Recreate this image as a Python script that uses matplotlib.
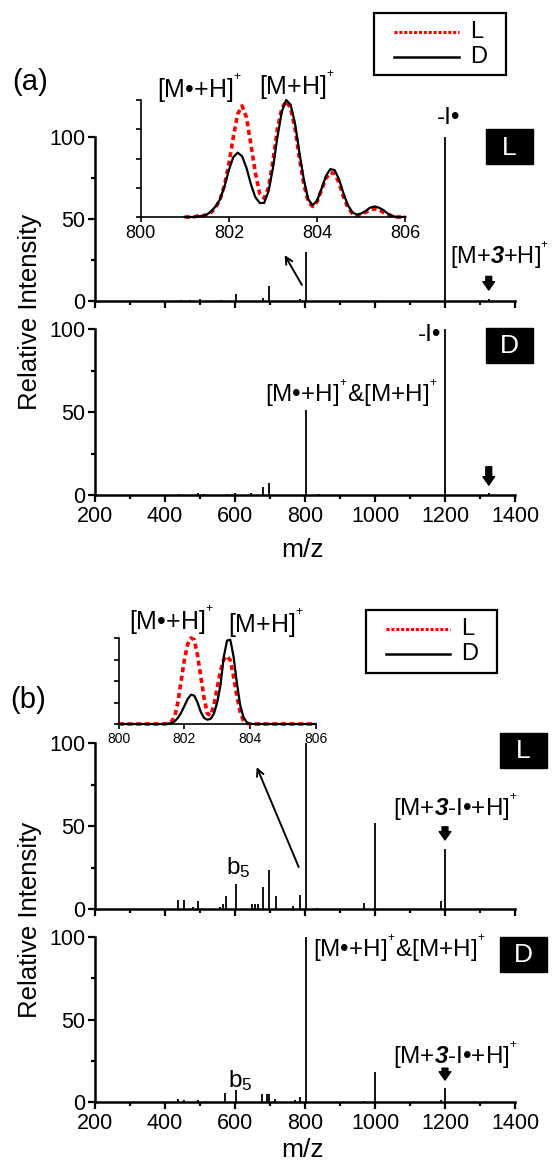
import numpy as np
import matplotlib.pyplot as plt
from matplotlib.patches import Rectangle
from matplotlib.lines import Line2D

plt.rcParams['font.family'] = ['Liberation Sans', 'DejaVu Sans']
plt.rcParams['mathtext.fontset'] = 'custom'
plt.rcParams['mathtext.rm'] = 'Liberation Sans'
plt.rcParams['mathtext.it'] = 'Liberation Sans:italic'
plt.rcParams['mathtext.bf'] = 'Liberation Sans:italic:bold'

# ---- stick spectra (m/z, relative intensity) ----
a_L_mz = [445, 470, 500, 560, 603, 680, 697, 785, 803, 1200, 1326]
a_L_int = [0.5, 0.7, 1.0, 0.5, 4.5, 2.0, 9.0, 1.0, 30, 100, 1.0]

a_D_mz = [440, 495, 510, 576, 600, 645, 680, 697, 803, 840, 1200, 1326]
a_D_int = [0.5, 1.0, 0.5, 0.5, 1.5, 1.0, 5.0, 7.0, 51, 0.5, 100, 1.5]

b_L_mz = [438, 454, 481, 495, 557, 567, 574, 603, 648, 657, 667, 679, 698, 716,
          767, 786, 803, 833, 968, 1000, 1188, 1200]
b_L_int = [5.6, 5.6, 1.5, 4.8, 1.5, 3.0, 7.7, 15, 3.0, 3.0, 3.0, 13.5, 23.5, 7.7,
           2.0, 8.3, 100, 0.5, 3.5, 52, 5.0, 36]

b_D_mz = [438, 454, 495, 570, 603, 677, 690, 698, 714, 771, 786, 803, 968, 1000, 1188, 1200]
b_D_int = [2.0, 1.0, 1.5, 5.5, 7.0, 5.0, 5.0, 5.0, 2.0, 1.0, 3.0, 100, 0.5, 18, 1.5, 8.5]

# ---- inset isotope profiles (normalised) ----
ia_mz = np.round(np.arange(801.0, 806.01, 0.1), 1)
ia_D = [0.00, 0.00, 0.00, 0.005, 0.01, 0.02, 0.05, 0.09, 0.15, 0.26,
        0.40, 0.51, 0.55, 0.52, 0.42, 0.28, 0.17, 0.12, 0.12, 0.22,
        0.42, 0.68, 0.90, 1.00, 0.96, 0.80, 0.55, 0.32, 0.15, 0.10,
        0.14, 0.24, 0.35, 0.41, 0.40, 0.32, 0.20, 0.10, 0.04, 0.02,
        0.03, 0.05, 0.08, 0.09, 0.08, 0.06, 0.03, 0.01, 0.00, 0.00, 0.00]
ia_L = [0.00, 0.00, 0.00, 0.01, 0.01, 0.02, 0.04, 0.08, 0.15, 0.27,
        0.45, 0.68, 0.88, 0.95, 0.85, 0.62, 0.38, 0.20, 0.16, 0.25,
        0.48, 0.75, 0.93, 0.99, 0.93, 0.76, 0.50, 0.28, 0.13, 0.09,
        0.13, 0.23, 0.33, 0.38, 0.37, 0.29, 0.17, 0.08, 0.03, 0.01,
        0.02, 0.04, 0.06, 0.07, 0.06, 0.04, 0.02, 0.01, 0.00, 0.00, 0.00]

ib_mz = np.round(np.arange(800.0, 806.01, 0.1), 1)
ib_D = [0]*15 + [0.005, 0.01, 0.03, 0.07, 0.13, 0.21, 0.29, 0.34, 0.33, 0.25,
                 0.14, 0.07, 0.05, 0.06, 0.12, 0.25, 0.45, 0.78, 0.97, 0.98,
                 0.78, 0.48, 0.22, 0.08, 0.02] + [0]*21
ib_L = [0]*15 + [0.01, 0.03, 0.08, 0.25, 0.50, 0.75, 0.93, 1.00, 0.98, 0.80,
                 0.55, 0.30, 0.12, 0.10, 0.22, 0.42, 0.62, 0.75, 0.79, 0.74,
                 0.55, 0.32, 0.14, 0.04, 0.01] + [0]*21

W, H = 552, 1164
fig = plt.figure(figsize=(W/100, H/100), dpi=100)

def rect(l, t, r, b):
    return [l/W, 1-b/H, (r-l)/W, (b-t)/H]

def style_main(ax, labels):
    ax.set_xlim(200, 1400)
    ax.set_ylim(0, 100)
    for s in ['top', 'right']:
        ax.spines[s].set_visible(False)
    for s in ['left', 'bottom']:
        ax.spines[s].set_linewidth(1.8)
    ax.set_xticks(range(200, 1401, 200))
    ax.set_xticks(range(300, 1400, 200), minor=True)
    ax.set_yticks([0, 50, 100])
    ax.set_yticks([25, 75], minor=True)
    ax.tick_params(which='major', direction='out', length=5, width=1.6, labelsize=15.5, pad=2)
    ax.tick_params(axis='x', which='major', pad=3)
    ax.tick_params(which='minor', direction='out', length=3, width=1.6)
    if not labels:
        ax.tick_params(axis='x', labelbottom=False)

def sticks(ax, mz, inten):
    ax.vlines(mz, 0, inten, color='k', lw=1.3)

axs = {}
axs['aL'] = fig.add_axes(rect(95, 137, 515, 301))
axs['aD'] = fig.add_axes(rect(95, 329, 515, 495))
axs['bL'] = fig.add_axes(rect(95, 743, 515, 909))
axs['bD'] = fig.add_axes(rect(95, 937, 515, 1102))
style_main(axs['aL'], False)
style_main(axs['aD'], True)
style_main(axs['bL'], False)
style_main(axs['bD'], True)
sticks(axs['aL'], a_L_mz, a_L_int)
sticks(axs['aD'], a_D_mz, a_D_int)
sticks(axs['bL'], b_L_mz, b_L_int)
sticks(axs['bD'], b_D_mz, b_D_int)

fs = 17.5
sup = '${}^{{}^{+}}$'
pion = '[M\u2022+H]' + sup
mh = '[M+H]' + sup

def down_arrow(ax, x, y0, y1):
    ax.annotate('', xy=(x, y0), xytext=(x, y1),
                arrowprops=dict(arrowstyle='simple,head_width=0.7,head_length=0.5,tail_width=0.35',
                                fc='k', ec='k', shrinkA=0, shrinkB=0, mutation_scale=12))

def long_arrow(ax, tail, head):
    ax.annotate('', xy=head, xytext=tail,
                arrowprops=dict(arrowstyle='->,head_width=0.25,head_length=0.5',
                                color='k', lw=1.4, shrinkA=0, shrinkB=0))

ax = axs['aL']
ax.text(1209, 111.6, '-I\u2022', fontsize=fs, ha='center', va='center')
ax.text(1214, 28, '[M+$\\mathbf{3}$+H]' + sup, fontsize=17, ha='left', va='center')
down_arrow(ax, 1325, 6.7, 15)
long_arrow(ax, (791, 9.8), (742, 28))

ax = axs['aD']
ax.text(1157, 96.4, '-I\u2022', fontsize=fs, ha='center', va='center')
ax.text(933, 61.4, pion + '&' + mh, fontsize=fs, ha='center', va='center')
down_arrow(ax, 1325, 6, 17)

ax = axs['bL']
ax.text(575, 24.7, 'b$_{5}$', fontsize=fs, ha='left', va='center')
ax.text(1229, 61.4, '[M+$\\mathbf{3}$-I\u2022+H]' + sup, fontsize=fs, ha='center', va='center')
down_arrow(ax, 1200, 41.6, 49.5)
long_arrow(ax, (782, 25.3), (662, 85.5))

ax = axs['bD']
ax.text(580, 13.3, 'b$_{5}$', fontsize=fs, ha='left', va='center')
ax.text(822, 93.3, pion + '&' + mh, fontsize=fs, ha='left', va='center')
ax.text(1229, 28.5, '[M+$\\mathbf{3}$-I\u2022+H]' + sup, fontsize=fs, ha='center', va='center')
down_arrow(ax, 1200, 13.3, 20.5)

# ---- insets ----
def style_inset(ax, lsize):
    ax.set_xlim(800, 806)
    ax.set_ylim(0, 1)
    for s in ['top', 'right']:
        ax.spines[s].set_visible(False)
    for s in ['left', 'bottom']:
        ax.spines[s].set_linewidth(1.2)
    ax.set_xticks([800, 802, 804, 806])
    ax.set_yticks([0, 0.25, 0.5, 0.75, 1.0])
    ax.set_yticklabels([])
    ax.tick_params(direction='out', length=3.5, width=1.2, labelsize=lsize, pad=2)
    ax.patch.set_alpha(0)

ia = fig.add_axes(rect(140.6, 100, 405.3, 217))
style_inset(ia, 13)
ia.plot(ia_mz, ia_L, color='red', lw=2.6, ls=(0, (1.4, 1.0)), clip_on=False)
ia.plot(ia_mz, ia_D, color='k', lw=1.6, clip_on=False)

ib = fig.add_axes(rect(118.8, 638, 315.6, 724))
style_inset(ib, 10)
ib.plot(ib_mz, ib_L, color='red', lw=2.6, ls=(0, (1.4, 1.0)), clip_on=False)
ib.plot(ib_mz, ib_D, color='k', lw=1.6, clip_on=False)

def ftext(px, py, s, **kw):
    fig.text(px/W, 1-py/H, s, **kw)

ftext(200, 88, pion, fontsize=18, ha='center', va='center')
ftext(297, 85, mh, fontsize=18, ha='center', va='center')
ftext(172, 620, pion, fontsize=18, ha='center', va='center')
ftext(266, 623, mh, fontsize=18, ha='center', va='center')

# panel letters, axis labels
ftext(30, 82, '(a)', fontsize=21, ha='center', va='center')
ftext(28, 700, '(b)', fontsize=21, ha='center', va='center')
ftext(30, 312, 'Relative Intensity', fontsize=18.5, rotation=90, ha='center', va='center')
ftext(30, 920, 'Relative Intensity', fontsize=18.5, rotation=90, ha='center', va='center')
ftext(303, 550, 'm/z', fontsize=19, ha='center', va='center')
ftext(303, 1150, 'm/z', fontsize=19, ha='center', va='center')

# black L / D tags
def tag(cx, cy, s):
    w, h = 47, 35
    fig.add_artist(Rectangle(((cx-w/2)/W, 1-(cy+h/2)/H), w/W, h/H,
                             transform=fig.transFigure, fc='black', ec='black'))
    ftext(cx, cy+1, s, fontsize=19, color='white', ha='center', va='center')

tag(509, 147, 'L')
tag(509, 345, 'D')
tag(523, 750, 'L')
tag(523, 954, 'D')

# legends, drawn as framed boxes
def legend_box(l, t, r, b, y1, y2, hx0, hx1, tx):
    fig.add_artist(Rectangle((l/W, 1-b/H), (r-l)/W, (b-t)/H, transform=fig.transFigure,
                             fc='white', ec='black', lw=1.6))
    fig.add_artist(Line2D([hx0/W, hx1/W], [1-y1/H, 1-y1/H], transform=fig.transFigure,
                          color='red', lw=2.2, ls=(0, (1, 0.6))))
    fig.add_artist(Line2D([hx0/W, hx1/W], [1-y2/H, 1-y2/H], transform=fig.transFigure,
                          color='k', lw=1.8))
    ftext(tx, y1, 'L', fontsize=17, ha='left', va='center')
    ftext(tx, y2, 'D', fontsize=17, ha='left', va='center')

legend_box(374, 13, 506, 75, 32, 57, 394, 459, 470)
legend_box(365.5, 610, 496.7, 673, 629, 654, 386, 450, 461)

fig.savefig('out.png', dpi=100)
